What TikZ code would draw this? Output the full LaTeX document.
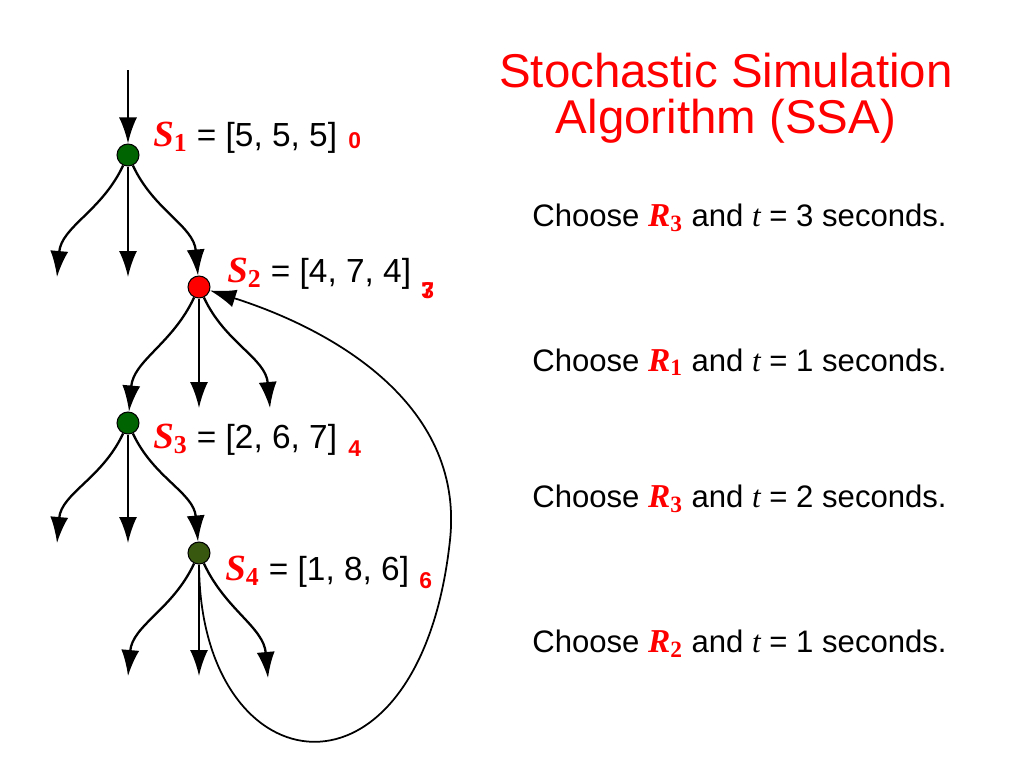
\documentclass[tikz,border=0pt]{standalone}
\usepackage{fontspec}
\setmainfont{Liberation Sans}
\newfontfamily\timesf{Liberation Serif}
\usetikzlibrary{arrows.meta}
\definecolor{verde}{RGB}{0,100,0}
\definecolor{oliva}{RGB}{56,88,16}
\newcommand{\est}[1]{{\color{red}\timesf\fontsize{21}{24}\selectfont\bfseries\itshape S\textsubscript{\upshape#1}}}
\newcommand{\reac}[1]{{\color{red}\timesf\fontsize{19}{21}\selectfont\bfseries\itshape R\textsubscript{\upshape#1}}}
\newcommand{\tvar}{{\timesf\itshape t}}
\tikzset{
  estado/.style={circle,draw=black,line width=0.6pt,minimum size=0.44cm,inner sep=0pt},
  etiq/.style={anchor=base west,inner sep=0pt,font=\fontsize{19}{23}\selectfont},
  tiempo/.style={anchor=base west,inner sep=0pt,text=red,font=\fontsize{13}{15}\selectfont\bfseries},
  elegir/.style={anchor=base west,inner sep=0pt,font=\fontsize{17.7}{21}\selectfont},
  titulo/.style={anchor=base,inner sep=0pt,text=red,font=\fontsize{27}{30}\selectfont},
}
\begin{document}
\begin{tikzpicture}[x=0.02cm,y=-0.02cm]
  \useasboundingbox (0,0) rectangle (1024,768);

  % estados
  \node[estado,fill=verde] (s1) at (128,155) {};
  \node[estado,fill=red]   (s2) at (199,287) {};
  \node[estado,fill=verde] (s3) at (128,423) {};
  \node[estado,fill=oliva] (s4) at (199,553) {};

  \coordinate (e0) at (128,70);
  \coordinate (l1) at (57,277);
  \coordinate (m1) at (128,277);
  \coordinate (m2) at (199,408);
  \coordinate (r2) at (270,408);
  \coordinate (l3) at (57,543);
  \coordinate (m3) at (128,543);
  \coordinate (l4) at (128,676);
  \coordinate (m4) at (199,676);
  \coordinate (r4) at (268,678);

  \begin{scope}[->,>={Latex[length=5.2mm,width=3.6mm]},line width=1.3pt]
  \draw (e0) -- (s1);
  \draw (s1) to[out=-115,in=85] (l1);
  \draw (s1) -- (m1);
  \draw (s1) to[out=-65,in=95] (s2);
  \draw (s2) to[out=-115,in=85] (s3);
  \draw (s2) -- (m2);
  \draw (s2) to[out=-65,in=95] (r2);
  \draw (s3) to[out=-115,in=85] (l3);
  \draw (s3) -- (m3);
  \draw (s3) to[out=-65,in=95] (s4);
  \draw (s4) to[out=-115,in=85] (l4);
  \draw (s4) -- (m4);
  \draw (s4) to[out=-65,in=95] (r4);
  % vuelta a S2
  \draw[line width=1pt] (s4) .. controls (200,790) and (420,820) .. (450,540)
    .. controls (465,400) and (325,327) .. (s2);
  \end{scope}

  % etiquetas
  \node[etiq] (t1) at (153,146) {\est{1} = [5, 5, 5]};
  \node[etiq] (t2) at (227,282) {\est{2} = [4, 7, 4]};
  \node[etiq] (t3) at (153,448) {\est{3} = [2, 6, 7]};
  \node[etiq] (t4) at (225,580) {\est{4} = [1, 8, 6]};
  \node[tiempo] (n1) at (348,148) {0};
  \node[tiempo] (n2) at (421,298) {\makebox[0pt][l]{3}7};
  \node[tiempo] (n3) at (348,456) {4};
  \node[tiempo] (n4) at (419,588) {6};

  \node[titulo] (tit1) at (726,87) {Stochastic Simulation};
  \node[titulo] (tit2) at (726,133) {Algorithm (SSA)};

  \node[elegir] (c1) at (532,226) {Choose \reac{3} and \tvar{} = 3 seconds.};
  \node[elegir] (c2) at (532,371) {Choose \reac{1} and \tvar{} = 1 seconds.};
  \node[elegir] (c3) at (532,507) {Choose \reac{3} and \tvar{} = 2 seconds.};
  \node[elegir] (c4) at (532,652) {Choose \reac{2} and \tvar{} = 1 seconds.};
\end{tikzpicture}
\end{document}
